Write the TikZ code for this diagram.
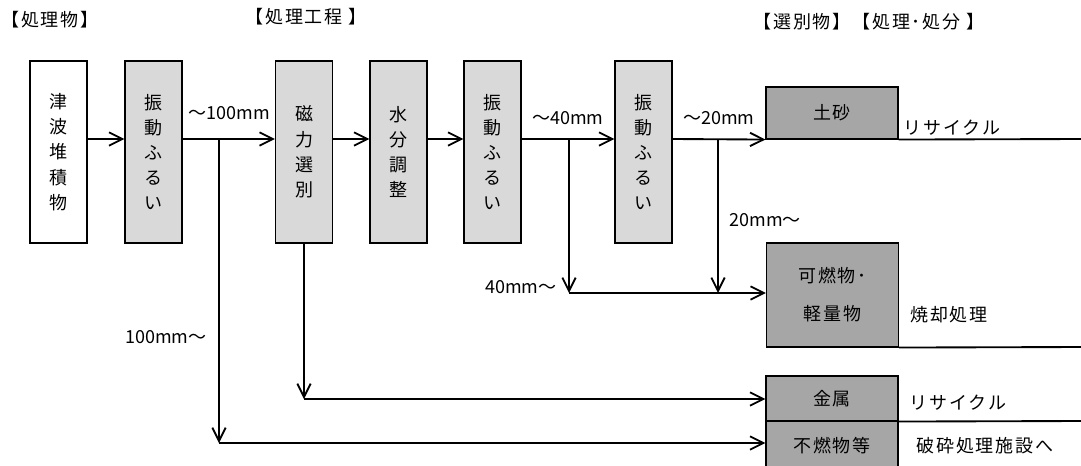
\documentclass[tikz,border=0pt]{standalone}
\usepackage{fontspec}
\setmainfont{Noto Sans CJK JP}[LetterSpace=10]
\newfontfamily\latf{Noto Sans CJK JP}
\usetikzlibrary{arrows.meta}
\definecolor{lg}{HTML}{D9D9D9}
\definecolor{dg}{HTML}{A6A6A6}
\tikzset{
 procbox/.style={draw, line width=0.8pt, fill=lg, minimum width=42.75pt, minimum height=136.5pt, inner sep=0pt, align=center, font=\fontsize{13.5}{18.9}\selectfont},
 resbox/.style={draw, line width=0.8pt, fill=dg, minimum width=99pt, inner sep=0pt, align=center, font=\fontsize{13.5}{28.5}\selectfont},
 lbl/.style={inner sep=0pt, font=\fontsize{13.5}{15}\selectfont},
 mlbl/.style={inner sep=0pt, font=\latf\fontsize{13.5}{15}\selectfont},
 flow/.style={line width=1.4pt, -{Straight Barb[length=10pt,width=10pt,line width=1.4pt]}},
 plain/.style={line width=1.4pt},
}
\begin{document}
\begin{tikzpicture}[x=0.75pt,y=-0.75pt]
\useasboundingbox (0,0) rectangle (1081,465);
\clip (0,0) rectangle (1081,465);
% process boxes
\node[procbox, fill=white] (b1) at (58.5,152) {津\\波\\堆\\積\\物};
\node[procbox] (b2) at (153.5,152) {振\\動\\ふ\\る\\い};
\node[procbox] (b3) at (304,152) {磁\\力\\選\\別};
\node[procbox] (b4) at (398.5,152) {水\\分\\調\\整};
\node[procbox] (b5) at (492.5,152) {振\\動\\ふ\\る\\い};
\node[procbox] (b6) at (643.5,152) {振\\動\\ふ\\る\\い};
% result boxes
\node[resbox, minimum height=39pt] (r1) at (832,113) {土砂};
\node[resbox, minimum height=78pt] (r2) at (832.5,295) {可燃物･\\軽量物};
\node[resbox, minimum height=33.75pt] (r3) at (832,398.5) {金属};
\node[resbox, minimum height=37.5pt] (r4) at (832,446) {不燃物等};
% junctions
\coordinate (j100) at (219,139);
\coordinate (e100) at (219,443);
\coordinate (jmag) at (304,399);
\coordinate (j40) at (569,139);
\coordinate (e40) at (569,293);
\coordinate (j20) at (718,139);
\coordinate (e20) at (718,293);
\coordinate (o1) at (1081,139);
\coordinate (o2) at (1081,347);
\coordinate (o3) at (1081,421);
% connectors
\draw[flow] (b1.east |- j100) -- (b2.west |- j100);
\draw[flow] (b2.east |- j100) -- (b3.west |- j100);
\draw[flow] (b3.east |- j100) -- (b4.west |- j100);
\draw[flow] (b4.east |- j100) -- (b5.west |- j100);
\draw[flow] (b5.east |- j100) -- (b6.west |- j100);
\draw[flow] (b6.east |- j100) -- (r1.south west);
\draw[flow] (j100) -- (e100);
\draw[flow] (e100) -- (r4.west |- e100);
\draw[flow] (b3.south) -- (jmag);
\draw[flow] (jmag) -- (r3.west |- jmag);
\draw[flow] (j40) -- (e40);
\draw[flow] (e40) -- (r2.west |- e40);
\draw[flow] (j20) -- (e20);
\draw[plain] (r1.south east) -- (o1);
\draw[plain] (r2.south east) -- (o2);
\draw[plain] (r3.south east) -- (o3);
% labels
\node[lbl] (h1) at (50,20) {【処理物】};
\node[lbl] (h2) at (306,17) {【処理工程 】};
\node[lbl] (h3) at (869,22) {【選別物】【処理･処分 】};
\node[mlbl] (t100) at (229.5,113) {～100mm};
\node[mlbl] (t40) at (568,118) {～40mm};
\node[mlbl] (t20) at (719,118) {～20mm};
\node[mlbl] (u20) at (765,220) {20mm～};
\node[mlbl] (u40) at (521,287) {40mm～};
\node[mlbl] (u100) at (166,337) {100mm～};
\node[lbl] (d1) at (952,128) {リサイクル};
\node[lbl] (d2) at (949,315) {焼却処理};
\node[lbl] (d3) at (958,403) {リサイクル};
\node[lbl] (d4) at (985,446) {破砕処理施設へ};
\end{tikzpicture}
\end{document}
